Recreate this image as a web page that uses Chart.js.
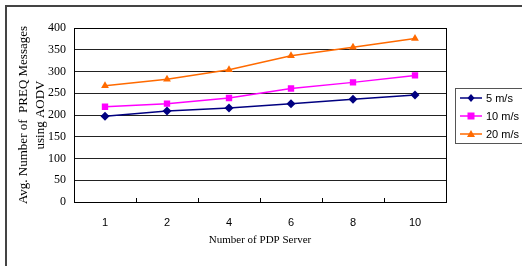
<!DOCTYPE html>
<html>
<head>
<meta charset="utf-8">
<script src="https://cdn.jsdelivr.net/npm/chart.js@4"></script>
<style>
  html, body { margin: 0; padding: 0; background: #fff; }
  #wrap { position: relative; width: 522px; height: 266px; overflow: hidden; }
  #frame { position: absolute; left: 5px; top: 5px; width: 600px; height: 400px;
           border-left: 2px solid #444; border-top: 2px solid #444; }
  canvas { position: absolute; left: 0; top: 0; }
</style>
</head>
<body>
<div id="wrap">
  <div id="frame"></div>
  <canvas id="chart" width="522" height="266"></canvas>
</div>
<script>
const servers = ['1', '2', '4', '6', '8', '10'];
const speed5 = [197, 209, 216, 226, 236, 246];
const speed10 = [219, 226, 239, 261, 275, 291];
const speed20 = [267, 282, 304, 336, 356, 376];
const seriesNames = ['5 m/s', '10 m/s', '20 m/s'];

// small tick marks inside the plot between categories, plus a line+marker legend
const extras = {
    id: 'extras',
    afterDraw(chart) {
        const ctx = chart.ctx;
        const x = chart.scales.x;
        const area = chart.chartArea;
        ctx.save();
        ctx.strokeStyle = '#000';
        ctx.lineWidth = 1;
        for (let i = 1; i < servers.length; i++) {
            let px = Math.round((x.getPixelForValue(i - 1) + x.getPixelForValue(i)) / 2) + 0.5;
            ctx.beginPath();
            ctx.moveTo(px, area.bottom);
            ctx.lineTo(px, area.bottom - 4);
            ctx.stroke();
        }

        // legend box
        ctx.strokeStyle = '#555';
        ctx.strokeRect(455.5, 88.5, 70, 55);
        chart.data.datasets.forEach((ds, i) => {
            let y = 98 + i * 18;
            ctx.strokeStyle = ds.borderColor;
            ctx.lineWidth = 1.5;
            ctx.beginPath();
            ctx.moveTo(460, y);
            ctx.lineTo(482, y);
            ctx.stroke();
            ctx.fillStyle = ds.borderColor;
            let cx = 471;
            ctx.beginPath();
            if (ds.pointStyle === 'rectRot') {
                ctx.moveTo(cx, y - 4); ctx.lineTo(cx + 3.5, y); ctx.lineTo(cx, y + 4); ctx.lineTo(cx - 3.5, y);
            } else if (ds.pointStyle === 'rect') {
                ctx.rect(cx - 3.5, y - 3.5, 7, 7);
            } else {
                ctx.moveTo(cx, y - 4); ctx.lineTo(cx + 4, y + 3); ctx.lineTo(cx - 4, y + 3);
            }
            ctx.closePath();
            ctx.fill();
            ctx.fillStyle = '#000';
            ctx.font = '11px "Liberation Sans", Arial, sans-serif';
            ctx.textBaseline = 'middle';
            ctx.fillText(ds.label, 486, y + 0.5);
        });
        ctx.restore();
    }
};

const makeSet = (label, data, color, style, radius) => ({
    label: label,
    data: data,
    borderColor: color,
    backgroundColor: color,
    borderWidth: 1.5,
    pointStyle: style,
    pointRadius: radius,
    pointBorderWidth: 0,
    pointBackgroundColor: color,
    tension: 0,
    fill: false
});

new Chart(document.getElementById('chart'), {
    type: 'line',
    data: {
        labels: servers,
        datasets: [
            makeSet(seriesNames[0], speed5, '#000080', 'rectRot', 4.5),
            makeSet(seriesNames[1], speed10, '#ff00ff', 'rect', 4.5),
            makeSet(seriesNames[2], speed20, '#ff6a00', 'triangle', 4.5)
        ]
    },
    options: {
        responsive: false,
        animation: false,
        devicePixelRatio: 1,
        layout: { padding: { top: 28, right: 76, left: 0, bottom: 0 } },
        plugins: {
            legend: { display: false },
            tooltip: { enabled: false }
        },
        scales: {
            x: {
                offset: true,
                afterFit: s => { s.height = 64; },
                border: { display: true, color: '#000', width: 1 },
                grid: { display: false, drawTicks: false, offset: true },
                ticks: {
                    color: '#000',
                    padding: 14,
                    font: { size: 11, family: '"Liberation Sans", Arial, sans-serif' }
                },
                title: {
                    display: true,
                    text: 'Number of PDP Server',
                    color: '#000',
                    padding: { top: 6, bottom: 19 },
                    font: { size: 11, family: '"Liberation Serif", "Times New Roman", serif' }
                }
            },
            y: {
                min: 0,
                max: 400,
                afterFit: s => { s.width = 74; },
                border: { display: true, color: '#000', width: 1 },
                grid: { color: '#222', lineWidth: 1, drawTicks: false },
                ticks: {
                    stepSize: 50,
                    color: '#000',
                    padding: 8,
                    font: { size: 12, family: '"Liberation Serif", "Times New Roman", serif' }
                },
                title: {
                    display: true,
                    text: ['Avg. Number of  PREQ Messages', 'using AODV'],
                    color: '#000',
                    padding: { top: 15, bottom: 0 },
                    font: { size: 13, family: '"Liberation Serif", "Times New Roman", serif', lineHeight: 1.3 }
                }
            }
        }
    },
    plugins: [extras, {
        id: 'rightBorder',
        afterDraw(chart) {
            const a = chart.chartArea;
            const ctx = chart.ctx;
            ctx.save();
            ctx.strokeStyle = '#000';
            ctx.lineWidth = 1;
            ctx.strokeRect(Math.round(a.left) + 0.5, Math.round(a.top) + 0.5,
                Math.round(a.right - a.left), Math.round(a.bottom - a.top));
            ctx.restore();
        }
    }]
});
</script>
</body>
</html>
